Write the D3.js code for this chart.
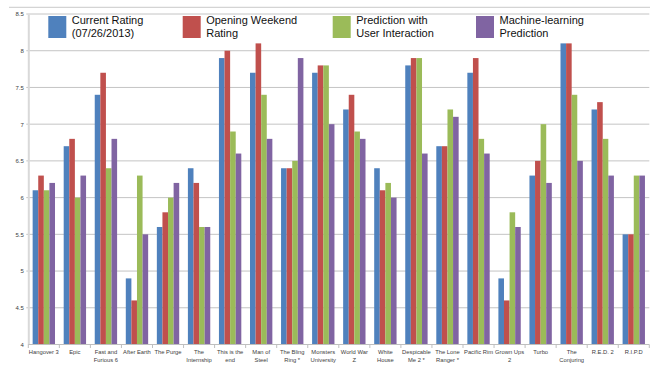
<!DOCTYPE html>
<html>
<head>
<meta charset="utf-8">
<script src="https://cdn.jsdelivr.net/npm/d3@7"></script>
<style>
html,body{margin:0;padding:0;background:#fff;}
svg{display:block;}
</style>
</head>
<body>
<svg id="chart" width="652" height="366"></svg>
<script>
const categories = ["Hangover 3","Epic","Fast and Furious 6","After Earth","The Purge","The Internship","This is the end","Man of Steel","The Bling Ring *","Monsters University","World War Z","White House","Despicable Me 2 *","The Lone Ranger *","Pacific Rim","Grown Ups 2","Turbo","The Conjuring","R.E.D. 2","R.I.P.D"];
const tickLabels = [["Hangover 3"],["Epic"],["Fast and","Furious 6"],["After Earth"],["The Purge"],["The","Internship"],["This is the","end"],["Man of","Steel"],["The Bling","Ring *"],["Monsters","University"],["World War","Z"],["White","House"],["Despicable","Me 2 *"],["The Lone","Ranger *"],["Pacific Rim"],["Grown Ups","2"],["Turbo"],["The","Conjuring"],["R.E.D. 2"],["R.I.P.D"]];
const seriesNames = [["Current Rating","(07/26/2013)"],["Opening Weekend","Rating"],["Prediction with","User Interaction"],["Machine-learning","Prediction"]];
const currentRating   = [6.1,6.7,7.4,4.9,5.6,6.4,7.9,7.7,6.4,7.7,7.2,6.4,7.8,6.7,7.7,4.9,6.3,8.1,7.2,5.5];
const openingWeekend  = [6.3,6.8,7.7,4.6,5.8,6.2,8.0,8.1,6.4,7.8,7.4,6.1,7.9,6.7,7.9,4.6,6.5,8.1,7.3,5.5];
const userInteraction = [6.1,6.0,6.4,6.3,6.0,5.6,6.9,7.4,6.5,7.8,6.9,6.2,7.9,7.2,6.8,5.8,7.0,7.4,6.8,6.3];
const mlPrediction    = [6.2,6.3,6.8,5.5,6.2,5.6,6.6,6.8,7.9,7.0,6.8,6.0,6.6,7.1,6.6,5.6,6.2,6.5,6.3,6.3];
const yTicks = [4,4.5,5,5.5,6,6.5,7,7.5,8,8.5];
const colors = ["#4F81BD","#C0504D","#9BBB59","#8064A2"];

(function() {
const series = [currentRating, openingWeekend, userInteraction, mlPrediction];
const svg = d3.select("#chart");
const pLeft = 28.3, pRight = 649.3, pTop = 14, pBottom = 344.5;

const x = d3.scaleBand().domain(categories).range([pLeft, pRight]).paddingInner(0.28).paddingOuter(0.14);
const xs = d3.scaleBand().domain(d3.range(series.length)).range([0, x.bandwidth()]);
const y = d3.scaleLinear().domain([4, 8.5]).range([pBottom, pTop]);

// outer top border
svg.append("line").attr("x1", 9).attr("x2", 650).attr("y1", 7.3).attr("y2", 7.3)
  .attr("stroke", "#d4d4d4").attr("stroke-width", 1.2);

// gridlines
svg.append("g").selectAll("line").data(yTicks.filter(t => t > 4)).join("line")
  .attr("x1", pLeft - 2).attr("x2", pRight).attr("y1", d => y(d)).attr("y2", d => y(d))
  .attr("stroke", "#c4c4c4").attr("stroke-width", 1);

// y axis
const yAxis = d3.axisLeft(y).tickValues(yTicks).tickSize(0).tickPadding(4.5).tickFormat(d3.format("~g"));
const gy = svg.append("g").attr("transform", `translate(${pLeft},0)`).call(yAxis);
gy.select(".domain").attr("stroke", "#d9d9d9").attr("stroke-width", 2);
gy.selectAll("text").attr("font-family", "Liberation Sans, Arial, sans-serif").attr("font-size", 6).attr("fill", "#404040");

// bars
const groups = svg.append("g").selectAll("g").data(categories).join("g")
  .attr("transform", d => `translate(${x(d)},0)`);
groups.selectAll("rect").data((d, i) => series.map((s, k) => ({k, v: s[i]}))).join("rect")
  .attr("x", d => xs(d.k)).attr("width", xs.bandwidth())
  .attr("y", d => y(d.v)).attr("height", d => y(4) - y(d.v))
  .attr("fill", d => colors[d.k]);

// x axis
svg.append("line").attr("x1", pLeft).attr("x2", pRight).attr("y1", pBottom).attr("y2", pBottom)
  .attr("stroke", "#bfbfbf").attr("stroke-width", 1);
const step = x.step();
svg.append("g").selectAll("line").data(d3.range(categories.length + 1)).join("line")
  .attr("x1", i => pLeft + i * step).attr("x2", i => pLeft + i * step)
  .attr("y1", pBottom).attr("y2", pBottom + 3.5)
  .attr("stroke", "#bfbfbf");
const xl = svg.append("g").selectAll("text").data(categories).join("text")
  .attr("x", d => x(d) + x.bandwidth() / 2).attr("y", 354)
  .attr("text-anchor", "middle")
  .attr("font-family", "Liberation Sans, Arial, sans-serif").attr("font-size", 5.8).attr("fill", "#404040");
xl.selectAll("tspan").data((d, i) => tickLabels[i]).join("tspan")
  .attr("x", function() { return this.parentNode.getAttribute("x"); })
  .attr("dy", (d, j) => j === 0 ? 0 : 7.5)
  .text(d => d);

// legend
const legendX = [48.3, 182.7, 332.7, 476];
const lg = svg.append("g").selectAll("g").data(seriesNames).join("g")
  .attr("transform", (d, i) => `translate(${legendX[i]},0)`);
lg.append("rect").attr("x", 0).attr("y", 16).attr("width", 18).attr("height", 22)
  .attr("fill", (d, i) => colors[i]);
const lt = lg.append("text").attr("x", 23.5).attr("y", 24.3)
  .attr("font-family", "Liberation Sans, Arial, sans-serif").attr("font-size", 11).attr("fill", "#111");
lt.selectAll("tspan").data(d => d).join("tspan")
  .attr("x", 23.5).attr("dy", (d, j) => j === 0 ? 0 : 12.5).text(d => d);
})();
</script>
</body>
</html>
